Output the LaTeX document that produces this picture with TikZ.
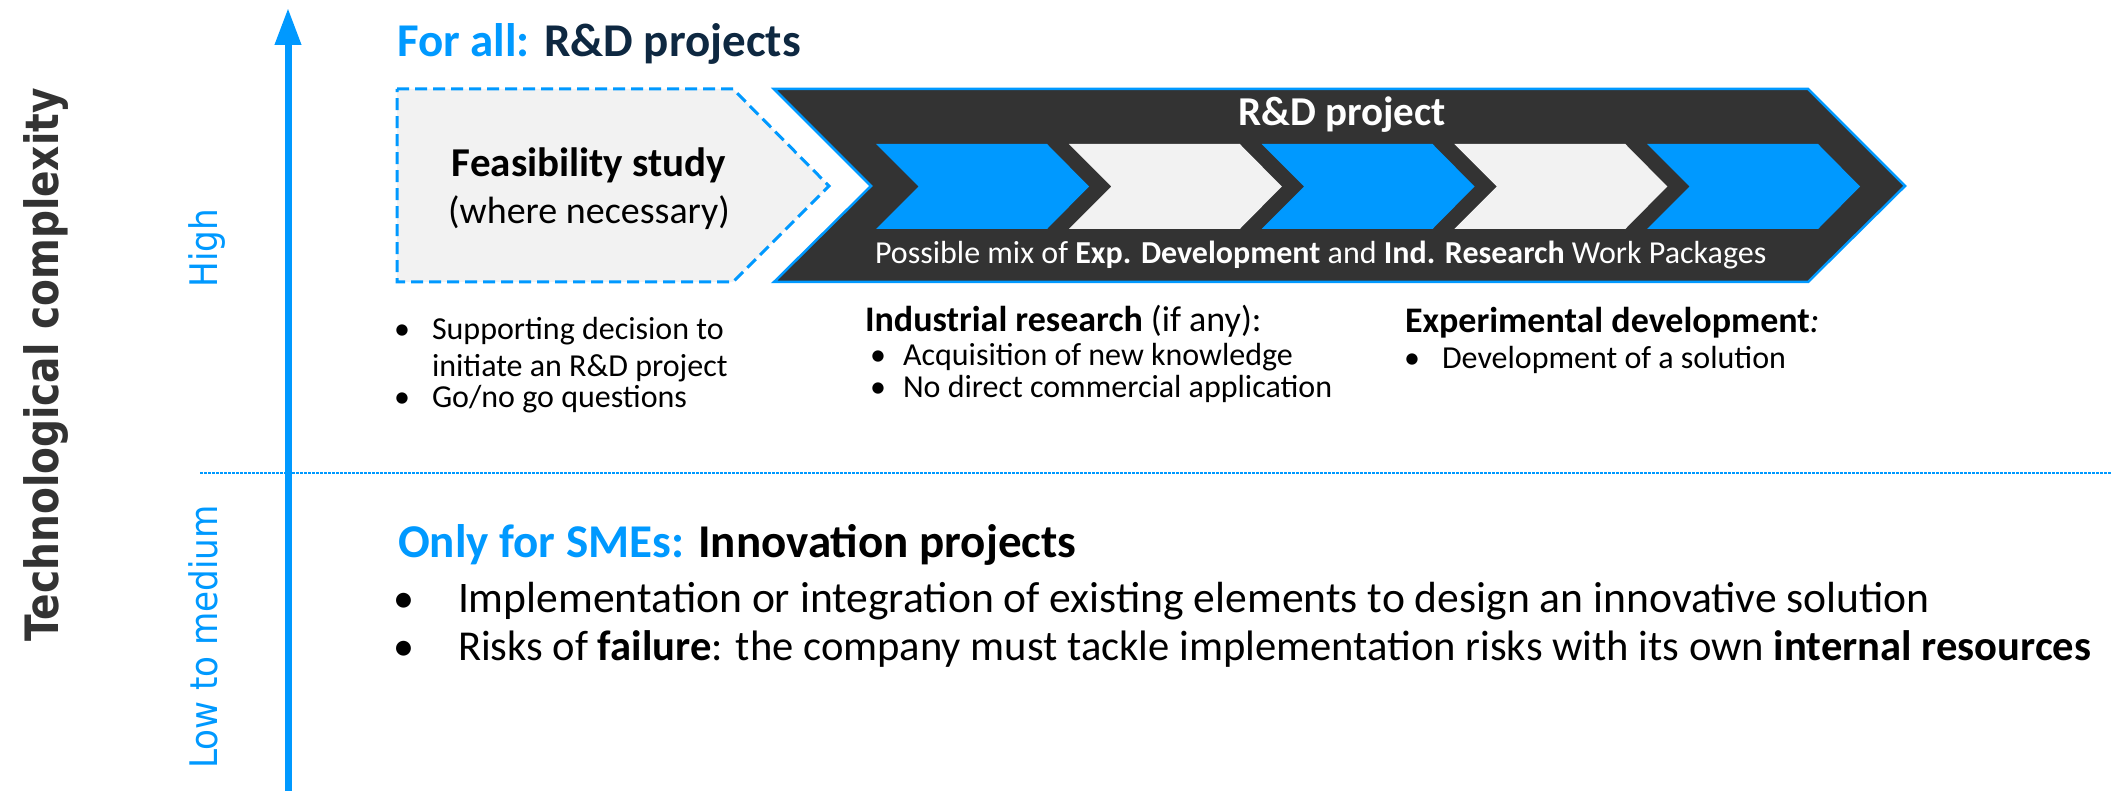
\documentclass[tikz,border=0pt]{standalone}
\usepackage{fontspec}
\setmainfont{Carlito}
\newfontfamily\vfont[FakeStretch=0.9]{DejaVu Sans}
\newfontfamily\tfont[FakeStretch=0.85]{DejaVu Sans}
\usetikzlibrary{arrows.meta}
\definecolor{brblue}{HTML}{0099FF}
\definecolor{dgray}{HTML}{333333}
\definecolor{lgray}{HTML}{F2F2F2}
\definecolor{navy}{HTML}{0E2841}
\newcommand{\fsz}[1]{\fontsize{#1}{#1}\selectfont}
\begin{document}
\begin{tikzpicture}[x=1pt,y=-1pt,
  txt/.style={inner sep=0pt,outer sep=0pt,anchor=base west},
  ctxt/.style={inner sep=0pt,outer sep=0pt,anchor=base},
  colt/.style={txt,font=\fsz{32}},
  colh/.style={txt,font=\fsz{36}},
  colb/.style={ctxt,font=\fsz{32}},
  bigb/.style={ctxt,font=\fsz{42}},
  vlabel/.style={inner sep=0pt,anchor=base,rotate=90,text=brblue,font=\vfont\fsz{38}},
  axisline/.style={line width=7pt,brblue,-{Triangle[length=37pt,width=25pt]}},
  sepline/.style={brblue,line width=1.6pt,dash pattern=on 2.5pt off 1.5pt},
  feasshape/.style={fill=lgray,draw=brblue,line width=3pt,dash pattern=on 12pt off 6pt},
  rdshape/.style={fill=dgray,draw=brblue,line width=2.5pt}]
\useasboundingbox (0,0) rectangle (2111,791);
\fill[white] (0,0) rectangle (2111,791);

% separator and axis
\coordinate (sepL) at (200,473);
\coordinate (sepR) at (2111,473);
\draw[sepline] (sepL) -- (sepR);
\coordinate (axbot) at (288,791);
\coordinate (axtop) at (288,8);
\draw[axisline] (axbot) -- (axtop);

% feasibility study shape
\path[feasshape] (397,89) -- (733,89) -- (829,186) -- (733,282) -- (397,282) -- cycle;

% R&D project chevron
\path[rdshape] (774,89) -- (1808,89) -- (1905,186) -- (1808,282) -- (774,282) -- (871,186) -- cycle;

% inner work packages
\foreach \i/\c in {0/brblue,1/lgray,2/brblue,3/lgray,4/brblue} {
  \pgfmathsetmacro\L{876+192.75*\i}
  \fill[\c] (\L,144) -- (\L+171,144) -- (\L+213,186.5) -- (\L+171,229) -- (\L,229) -- (\L+42.5,186.5) -- cycle;
}

% titles
\node[txt,font=\bfseries\fsz{47}] (title1) at (397,57) {\textcolor{brblue}{For all:} \textcolor{navy}{R\&D projects}};
\node[txt,font=\bfseries\fsz{47}] (title2) at (398,557) {\textcolor{brblue}{Only for SMEs:} Innovation projects};

% texts in shapes
\node[ctxt,font=\bfseries\fsz{41}] (feas) at (589,177) {Feasibility study};
\node[ctxt,font=\fsz{38}] (feas2) at (589,224) {(where necessary)};
\node[ctxt,text=white,font=\bfseries\fsz{41}] (rdp) at (1342,126) {R\&D project};
\node[txt,text=white,font=\fsz{32}] (mix) at (875,264) {Possible mix of \textbf{Exp. Development} and \textbf{Ind. Research} Work Packages};

% left column
\node[colb] (b1) at (402,340) {•};
\node[colt] (l1) at (432,340) {Supporting decision to};
\node[colt] (l2) at (432,376) {initiate an R\&D project};
\node[colb] (b2) at (402,407) {•};
\node[colt] (l3) at (432,407) {Go/no go questions};

% middle column
\node[colh] (m0) at (865,332) {\textbf{Industrial research} (if any):};
\node[colb] (b3) at (878,365) {•};
\node[colt] (m1) at (903,365) {Acquisition of new knowledge};
\node[colb] (b4) at (878,397) {•};
\node[colt] (m2) at (903,397) {No direct commercial application};

% right column
\node[colh] (r0) at (1405,333) {\textbf{Experimental development}\textit{:}};
\node[colb] (b5) at (1412,368) {•};
\node[colt] (r1) at (1442,368) {Development of a solution};

% bottom section
\node[bigb] (b6) at (404,612) {•};
\node[txt,font=\fsz{43.6}] (s1) at (458,612) {Implementation or integration of existing elements to design an innovative solution};
\node[bigb] (b7) at (404,660) {•};
\node[txt,font=\fsz{42.6}] (s2) at (458,660) {Risks of \textbf{failure}: the company must tackle implementation risks with its own \textbf{internal resources}};

% vertical labels
\node[vlabel] (high) at (217,248) {High};
\node[vlabel] (low) at (217,637) {Low to medium};
\node[inner sep=0pt,anchor=base,rotate=90,text=dgray,font=\tfont\bfseries\fsz{46}] (tc) at (58,365) {Technological complexity};
\end{tikzpicture}
\end{document}
